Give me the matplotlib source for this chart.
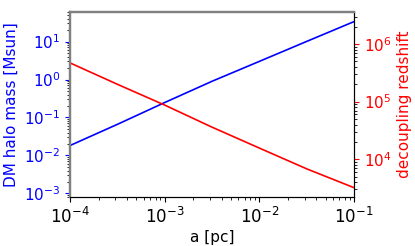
import matplotlib
matplotlib.use("Agg")
import matplotlib.pyplot as plt
import numpy as np

a_pc = [1e-4, 10**-3.5, 1e-3, 10**-2.5, 1e-2, 10**-1.5, 1e-1]
halo_mass = [0.0183, 0.066, 0.248, 0.90, 3.01, 10.1, 33.6]
z_dec = [4.7e5, 2.0e5, 8.7e4, 3.6e4, 1.56e4, 6.8e3, 3.2e3]

fig = plt.figure(figsize=(4.15, 2.46), dpi=100)
ax = fig.add_axes([0.169, 0.199, 0.684, 0.752])
ax2 = ax.twinx()

ax.plot(a_pc, halo_mass, color="blue", lw=1.2)
ax2.plot(a_pc, z_dec, color="red", lw=1.2)

ax.set_xscale("log")
ax.set_yscale("log")
ax2.set_yscale("log")
ax.set_xlim(1e-4, 1e-1)
ax.set_ylim(8e-4, 60)
ax2.set_ylim(2.2e3, 3.6e6)

ax.set_xlabel("a [pc]", fontsize=11, labelpad=2)
ax.set_ylabel("DM halo mass [Msun]", color="blue", fontsize=11)
ax2.set_ylabel("decoupling redshift", color="red", fontsize=11)

ax.tick_params(axis="x", labelsize=12)
ax.tick_params(axis="y", which="major", colors="blue", labelsize=11)
ax2.tick_params(axis="y", which="major", colors="red", labelsize=11)

for a in (ax, ax2):
    a.spines["left"].set_color("gray")
    a.spines["top"].set_color("gray")
    a.spines["top"].set_linewidth(1.6)
    a.spines["left"].set_linewidth(1.6)

fig.savefig("out.png", dpi=100)
